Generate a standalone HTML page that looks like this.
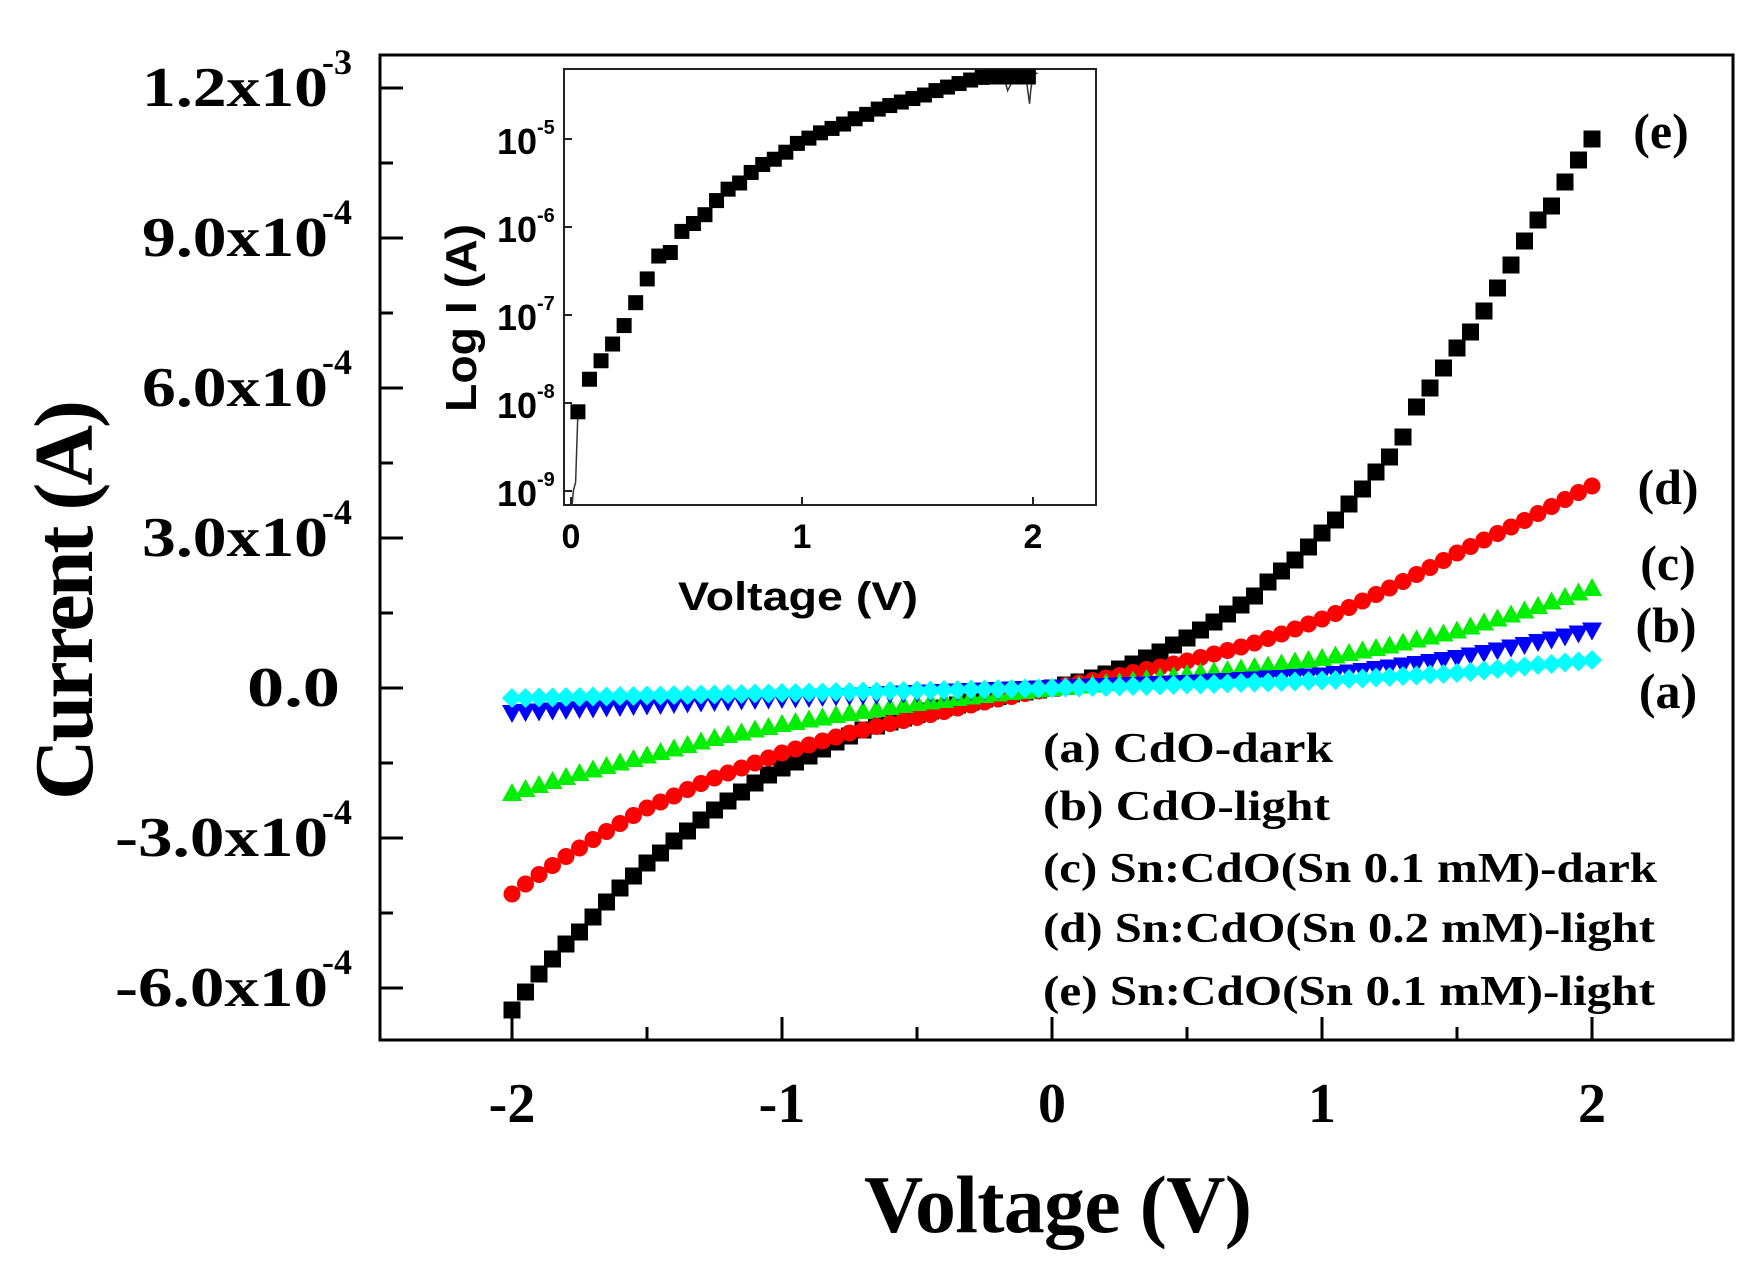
<!DOCTYPE html>
<html><head><meta charset="utf-8"><style>
html,body{margin:0;padding:0;background:#fff;}
svg{display:block;}
text{font-family:"Liberation Serif",serif;font-weight:bold;fill:#000;}
.sans{font-family:"Liberation Sans",sans-serif;}
</style></head><body>
<svg id="chart" width="1762" height="1282" viewBox="0 0 1762 1282" xmlns="http://www.w3.org/2000/svg">
<g id="main"></g>
<g id="inset"></g>
</svg>
<script>
// ---- main chart data (current in units of 1e-4 A) ----
const voltages = [-2.00,-1.95,-1.90,-1.85,-1.80,-1.75,-1.70,-1.65,-1.60,-1.55,-1.50,-1.45,-1.40,-1.35,-1.30,-1.25,-1.20,-1.15,-1.10,-1.05,-1.00,-0.95,-0.90,-0.85,-0.80,-0.75,-0.70,-0.65,-0.60,-0.55,-0.50,-0.45,-0.40,-0.35,-0.30,-0.25,-0.20,-0.15,-0.10,-0.05,0.00,0.05,0.10,0.15,0.20,0.25,0.30,0.35,0.40,0.45,0.50,0.55,0.60,0.65,0.70,0.75,0.80,0.85,0.90,0.95,1.00,1.05,1.10,1.15,1.20,1.25,1.30,1.35,1.40,1.45,1.50,1.55,1.60,1.65,1.70,1.75,1.80,1.85,1.90,1.95,2.00];
const seriesE = [-6.44,-6.08,-5.72,-5.42,-5.12,-4.88,-4.58,-4.28,-4.00,-3.76,-3.50,-3.30,-3.06,-2.86,-2.64,-2.44,-2.26,-2.08,-1.90,-1.74,-1.60,-1.48,-1.36,-1.22,-1.08,-0.96,-0.84,-0.76,-0.68,-0.60,-0.53,-0.46,-0.40,-0.34,-0.28,-0.22,-0.17,-0.12,-0.08,-0.04,0.00,0.06,0.12,0.20,0.28,0.38,0.48,0.60,0.72,0.86,1.00,1.16,1.32,1.48,1.66,1.84,2.12,2.34,2.56,2.82,3.10,3.36,3.68,3.98,4.32,4.62,5.02,5.62,6.00,6.40,6.80,7.12,7.54,8.00,8.46,8.94,9.36,9.64,10.12,10.56,10.98];
const seriesD = [-4.12,-3.92,-3.73,-3.55,-3.37,-3.20,-3.03,-2.87,-2.71,-2.55,-2.40,-2.28,-2.16,-2.03,-1.91,-1.80,-1.70,-1.60,-1.50,-1.40,-1.30,-1.22,-1.14,-1.06,-0.98,-0.90,-0.84,-0.77,-0.71,-0.65,-0.59,-0.53,-0.47,-0.40,-0.34,-0.28,-0.22,-0.17,-0.11,-0.06,0.00,0.05,0.10,0.15,0.20,0.25,0.31,0.37,0.42,0.48,0.54,0.61,0.68,0.75,0.82,0.90,0.99,1.08,1.18,1.28,1.38,1.49,1.61,1.74,1.87,2.00,2.13,2.27,2.41,2.55,2.70,2.83,2.96,3.09,3.22,3.35,3.49,3.63,3.77,3.91,4.04];
const seriesC = [-2.10,-2.02,-1.94,-1.86,-1.78,-1.70,-1.63,-1.56,-1.49,-1.42,-1.35,-1.28,-1.21,-1.14,-1.07,-1.00,-0.94,-0.89,-0.83,-0.78,-0.72,-0.68,-0.63,-0.59,-0.54,-0.50,-0.46,-0.42,-0.38,-0.34,-0.30,-0.27,-0.24,-0.20,-0.17,-0.14,-0.11,-0.08,-0.06,-0.03,0.00,0.02,0.05,0.07,0.10,0.12,0.15,0.18,0.21,0.24,0.28,0.31,0.33,0.36,0.39,0.42,0.45,0.49,0.53,0.56,0.60,0.65,0.70,0.75,0.80,0.85,0.91,0.97,1.03,1.09,1.15,1.23,1.31,1.39,1.47,1.55,1.64,1.73,1.82,1.91,2.00];
const seriesB = [-0.50,-0.48,-0.47,-0.45,-0.44,-0.42,-0.41,-0.39,-0.38,-0.36,-0.35,-0.34,-0.32,-0.31,-0.29,-0.28,-0.27,-0.25,-0.24,-0.23,-0.22,-0.21,-0.20,-0.18,-0.17,-0.16,-0.15,-0.14,-0.12,-0.11,-0.10,-0.09,-0.08,-0.07,-0.06,-0.05,-0.04,-0.03,-0.02,-0.01,0.00,0.01,0.02,0.03,0.04,0.05,0.06,0.07,0.08,0.09,0.10,0.11,0.13,0.14,0.16,0.17,0.19,0.20,0.22,0.23,0.25,0.28,0.31,0.34,0.38,0.41,0.45,0.48,0.52,0.56,0.60,0.65,0.70,0.75,0.81,0.86,0.92,0.97,1.03,1.09,1.15];
const seriesA = [-0.20,-0.20,-0.19,-0.19,-0.18,-0.18,-0.17,-0.17,-0.16,-0.16,-0.15,-0.15,-0.14,-0.14,-0.13,-0.13,-0.12,-0.12,-0.11,-0.11,-0.10,-0.10,-0.09,-0.09,-0.08,-0.08,-0.07,-0.07,-0.06,-0.06,-0.05,-0.05,-0.04,-0.04,-0.03,-0.03,-0.02,-0.02,-0.01,-0.01,0.00,0.01,0.01,0.02,0.02,0.03,0.04,0.04,0.05,0.06,0.07,0.07,0.08,0.09,0.10,0.11,0.11,0.12,0.13,0.14,0.15,0.16,0.18,0.19,0.21,0.22,0.24,0.25,0.27,0.28,0.30,0.32,0.35,0.38,0.40,0.43,0.46,0.48,0.51,0.53,0.56];
const yTickValues = [-6,-3,0,3,6,9,12];
const yTickMantissa = ["-6.0x10","-3.0x10","0.0","3.0x10","6.0x10","9.0x10","1.2x10"];
const yTickExp = ["-4","-4","","-4","-4","-4","-3"];
const xTickValues = [-2,-1,0,1,2];
const xTickLabels = ["-2","-1","0","1","2"];
const legendLabels = ["(a) CdO-dark","(b) CdO-light","(c) Sn:CdO(Sn 0.1 mM)-dark","(d) Sn:CdO(Sn 0.2 mM)-light","(e) Sn:CdO(Sn 0.1 mM)-light"];
const curveTags = ["(e)","(d)","(c)","(b)","(a)"];
// ---- inset data (log10 of current) ----
const insetV = [0.03,0.08,0.13,0.18,0.23,0.28,0.33,0.38,0.43,0.48,0.53,0.58,0.63,0.68,0.73,0.78,0.83,0.88,0.93,0.98,1.03,1.08,1.13,1.18,1.23,1.28,1.33,1.38,1.43,1.48,1.53,1.58,1.63,1.68,1.73,1.78,1.83,1.88,1.93,1.98];
const insetLogI = [-8.10,-7.73,-7.52,-7.33,-7.12,-6.86,-6.59,-6.33,-6.29,-6.05,-5.96,-5.86,-5.70,-5.57,-5.50,-5.38,-5.29,-5.23,-5.15,-5.05,-4.99,-4.93,-4.88,-4.83,-4.77,-4.72,-4.66,-4.62,-4.58,-4.54,-4.50,-4.45,-4.41,-4.37,-4.33,-4.30,-4.29,-4.28,-4.27,-4.27];
const traceLowV = [0.00,0.005,0.01,0.02,0.025,0.03,0.04];
const traceLowLogI = [-9.3,-9.3,-9.0,-8.9,-8.5,-8.1,-8.05];
const traceHighV = [1.86,1.88,1.89,1.90,1.92,1.96,1.97,1.98,1.985,1.99,2.00,2.02];
const traceHighLogI = [-4.3,-4.35,-4.45,-4.4,-4.3,-4.27,-4.3,-4.5,-4.6,-4.45,-4.27,-4.25];
const insetYTicks = [-9,-8,-7,-6,-5];
const insetYExp = ["-9","-8","-7","-6","-5"];
const insetXTicks = [0,1,2];

const NS="http://www.w3.org/2000/svg";
function mk(tag,attrs,parent){const e=document.createElementNS(NS,tag);for(const k in attrs)e.setAttribute(k,attrs[k]);parent.appendChild(e);return e;}
const main=document.getElementById('main');
const inset=document.getElementById('inset');

const L=380,R=1733,T=55,B=1040;
const xS=v=>1052+v*270;
const yS=c=>688-c*50;
let frame=mk('rect',{x:L,y:T,width:R-L,height:B-T,fill:'none',stroke:'#000','stroke-width':3},main);


yTickValues.forEach((v,i)=>{
  const y=yS(v);
  let t=mk('line',{x1:L,x2:L+23,y1:y,y2:y,stroke:'#000','stroke-width':3},main);
  
  
  if(i<yTickValues.length-1){
    let m=mk('line',{x1:L,x2:L+13,y1:yS(v+1.5),y2:yS(v+1.5),stroke:'#000','stroke-width':3},main);
    
    
  }
  const txt=yTickMantissa[i];
  const w=txt.length*31-(txt[0]==='-'?4:0);
  const g=mk('text',{x:yTickExp[i]?328:340,y:y+18,'text-anchor':'end','font-size':56,textLength:w,lengthAdjust:'spacingAndGlyphs'},main);
  
  
  g.textContent=txt;
  if(yTickExp[i]){
    const s=mk('text',{x:322,y:y-14,'font-size':36},main);
    
    
    s.textContent=yTickExp[i];
  }
});
xTickValues.forEach((v,i)=>{
  const x=xS(v);
  let t=mk('line',{x1:x,x2:x,y1:B,y2:B-23,stroke:'#000','stroke-width':3},main);
  
  
  if(i<xTickValues.length-1){
    let m=mk('line',{x1:xS(v+0.5),x2:xS(v+0.5),y1:B,y2:B-13,stroke:'#000','stroke-width':3},main);
    
    
  }
  const l=mk('text',{x:x,y:1122,'text-anchor':'middle','font-size':56},main);
  
  
  l.textContent=xTickLabels[i];
});
let xt=mk('text',{x:1058,y:1232,'text-anchor':'middle','font-size':82,textLength:388},main);


xt.textContent='Voltage (V)';
let yt=mk('text',{x:0,y:0,'text-anchor':'middle','font-size':84,textLength:400,transform:'translate(92,600) rotate(-90)'},main);


yt.textContent='Current (A)';

function marker(shape,x,y,color,parent){
  let e;
  if(shape==='square') e=mk('rect',{x:x-8.5,y:y-8.5,width:17,height:17,fill:color},parent);
  else if(shape==='circle') e=mk('circle',{cx:x,cy:y,r:8.5,fill:color},parent);
  else if(shape==='up') e=mk('polygon',{points:`${x},${y-10} ${x+10},${y+8} ${x-10},${y+8}`,fill:color},parent);
  else if(shape==='down') e=mk('polygon',{points:`${x-10},${y-8} ${x+10},${y-8} ${x},${y+10}`,fill:color},parent);
  else e=mk('polygon',{points:`${x},${y-10} ${x+10},${y} ${x},${y+10} ${x-10},${y}`,fill:color},parent);
  return e;
}
const seriesDefs=[
  {name:'series-e',vals:seriesE,shape:'square',color:'#000'},
  {name:'series-d',vals:seriesD,shape:'circle',color:'#ff0000'},
  {name:'series-c',vals:seriesC,shape:'up',color:'#00ee00'},
  {name:'series-b',vals:seriesB,shape:'down',color:'#0000ff'},
  {name:'series-a',vals:seriesA,shape:'diamond',color:'#00ffff'}
];
seriesDefs.forEach(s=>{
  const g=mk('g',{},main);
  
  
  s.vals.forEach((c,i)=>{
    const p=marker(s.shape,xS(voltages[i]),yS(c),s.color,g);
    
    
  });
});
const tagPos=[[1661,148],[1668,504],[1668,580],[1666,642],[1668,708]];
curveTags.forEach((t,i)=>{
  const e=mk('text',{x:tagPos[i][0],y:tagPos[i][1],'text-anchor':'middle','font-size':50},main);
  
  
  e.textContent=t;
});
const legY=[762,820,882,942,1005];
const legW=[290,287,614,612,612];
legendLabels.forEach((t,i)=>{
  const e=mk('text',{x:1043,y:legY[i],'font-size':42,textLength:legW[i],lengthAdjust:'spacingAndGlyphs'},main);
  
  
  e.textContent=t;
});

// inset
const IL=564,IR=1096,IT=69,IB=505;
const ixS=v=>571+v*231;
const iyS=l=>139-(l+5)*88;
let ib=mk('rect',{x:IL,y:IT,width:IR-IL,height:IB-IT,fill:'#fff',stroke:'#222','stroke-width':2},inset);


insetYTicks.forEach((l,i)=>{
  const y=iyS(l);
  let t=mk('line',{x1:IL,x2:IL+8,y1:y,y2:y,stroke:'#222','stroke-width':2},inset);
  
  
  const e=mk('text',{x:537,y:y+15,'text-anchor':'end','font-size':36,'class':'sans'},inset);
  
  
  e.textContent='10';
  const s=mk('text',{x:537,y:y-5,'font-size':20,'class':'sans'},inset);
  
  
  s.textContent=insetYExp[i];
});
insetXTicks.forEach((v,i)=>{
  const x=ixS(v);
  let t=mk('line',{x1:x,x2:x,y1:IB,y2:IB-8,stroke:'#222','stroke-width':2},inset);
  
  
  const e=mk('text',{x:x,y:548,'text-anchor':'middle','font-size':34,'class':'sans'},inset);
  
  
  e.textContent=String(v);
});
let ixt=mk('text',{x:798,y:610,'text-anchor':'middle','font-size':40,'class':'sans',textLength:240,lengthAdjust:'spacingAndGlyphs'},inset);


ixt.textContent='Voltage (V)';
let iyt=mk('text',{x:0,y:0,'text-anchor':'middle','font-size':44,'class':'sans',textLength:188,lengthAdjust:'spacingAndGlyphs',transform:'translate(476,318) rotate(-90)'},inset);


iyt.textContent='Log I (A)';
[[traceLowV,traceLowLogI],[traceHighV,traceHighLogI]].forEach(([vs,ls])=>{
  let tr=mk('polyline',{points:vs.map((v,i)=>ixS(v)+','+Math.max(Math.min(iyS(ls[i]),IB),IT)).join(' '),fill:'none',stroke:'#333','stroke-width':1.5},inset);
  
  
});
const ig=mk('g',{},inset);


insetV.forEach((v,i)=>{
  const y=Math.max(iyS(insetLogI[i]),IT+8);
  const p=mk('rect',{x:ixS(v)-7.5,y:y-7.5,width:15,height:15,fill:'#000'},ig);
  
  
});
</script>
</body></html>
